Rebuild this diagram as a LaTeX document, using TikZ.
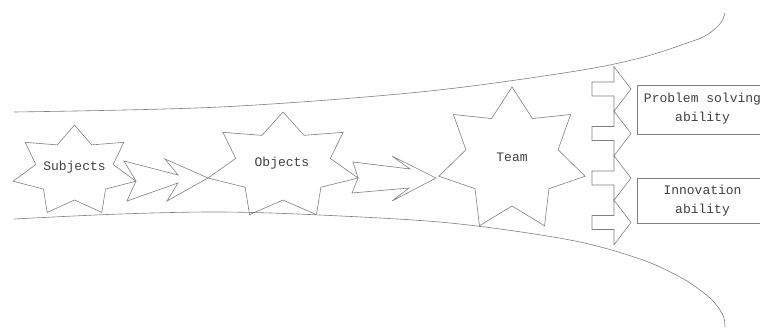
\documentclass[tikz,border=0pt]{standalone}
\usepackage{fontspec}
\setmonofont{Liberation Mono}
\usetikzlibrary{calc}
\tikzset{
  ln/.style={draw=black!50, line width=0.6pt, line join=miter},
  lbl/.style={font=\ttfamily\fontsize{13}{19}\selectfont, text=black!75, inner sep=0pt, align=center},
  abox/.style={ln, rectangle, inner sep=0pt, minimum width=131pt},
}
% star polygon: #1 = centre coordinate name, #2 = x radius, #3 = y radius
\newcommand\mystarpoly[3]{%
  \draw[ln] ($(#1)+(270:#2 and #3)$)
    \foreach \k in {1,...,13}{ -- ($(#1)+({270+\k*360/14}:{#2*(1-0.37*mod(\k,2))} and {#3*(1-0.37*mod(\k,2))})$) } -- cycle;
}
\begin{document}
\begin{tikzpicture}[x=1pt,y=-1pt]
\useasboundingbox (0,0) rectangle (760,327);

% funnel
\draw[ln] plot[smooth, tension=0.55] coordinates {(14,112) (220,107) (420,92) (570,72) (640,58) (690,42) (705,36) (716,28) (722,21) (725,13)};
\draw[ln] plot[smooth, tension=0.55] coordinates {(14,219) (120,214) (220,212) (320,215) (450,223) (570,240) (640,259) (680,277) (700,290) (712,300) (720,310) (724,318) (725,327)};

% stars
\coordinate (cs) at (74.5,171);
\coordinate (co) at (283,166);
\coordinate (ct) at (512,160);
\mystarpoly{cs}{63}{46}
\mystarpoly{co}{77}{54}
\mystarpoly{ct}{75}{73}
\node[lbl] (subj) at (74.5,167) {Subjects};
\node[lbl] (obj) at (282,163) {Objects};
\node[lbl] (team) at (512,157) {Team};

% notched arrows
\draw[ln] (124,161) -- (178,175) -- (165,159) -- (208,178) -- (167,201) -- (178,183) -- (127,201) -- (136,181) -- cycle;
\draw[ln] (353,162) -- (410,169) -- (392,156) -- (436,178) -- (392,201) -- (409,188) -- (352,193) -- (358,178) -- cycle;

% column of arrows
\foreach \c in {89,133.5,178,222.5}{
  \draw[ln] (592,\c-7) -- (614,\c-7) -- (614,\c-22.25) -- (631,\c) -- (614,\c+22.25) -- (614,\c+7) -- (592,\c+7) -- cycle;
}

% result boxes
\node[abox, minimum height=49pt] (psb) at (702.5,109.5) {};
\node[lbl] (pst) at (702.5,108.5) {Problem solving\\ability};
\node[abox, minimum height=45pt] (inb) at (702.5,200.5) {};
\node[lbl] (int) at (702.5,201) {Innovation\\ability};
\end{tikzpicture}
\end{document}
